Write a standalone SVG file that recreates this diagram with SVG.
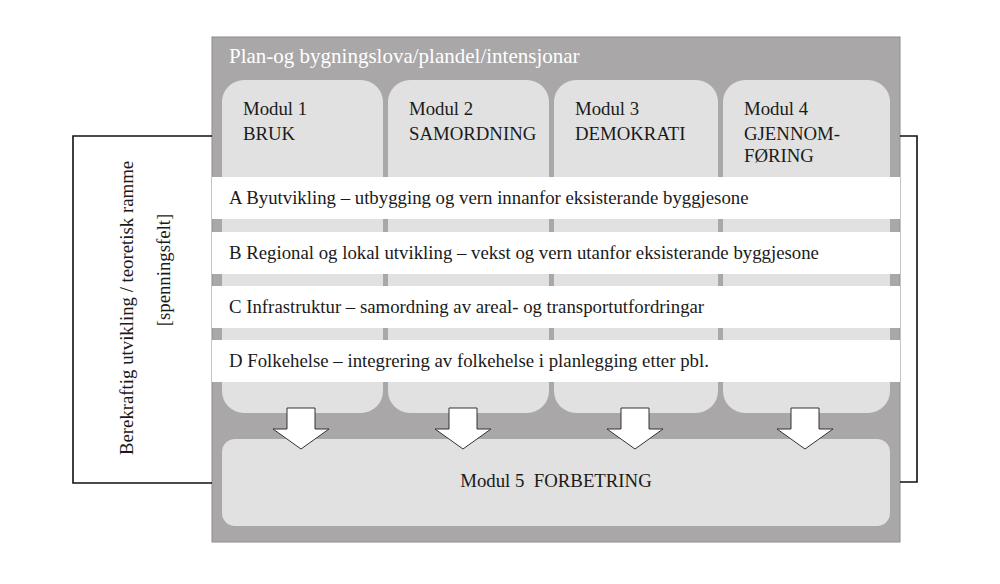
<svg xmlns="http://www.w3.org/2000/svg" width="1000" height="584" viewBox="0 0 1000 584">
<style>
text{font-family:"Liberation Serif","Times New Roman",serif;fill:#1a1a1a;}
.t{font-size:18.8px;}
.title{font-size:21px;fill:#ffffff;}
.mod{fill:#e1e1e1;}
.band{fill:#ffffff;}
.arrow{fill:#ffffff;stroke:#333333;stroke-width:1;}
.br{fill:none;stroke:#111111;stroke-width:1.6;}
</style>
<rect width="1000" height="584" fill="#ffffff"/>
<g id="frame">
<rect x="212" y="37" width="688" height="505" fill="#a9a7a8" stroke="#8e8c8d" stroke-width="1"/>
<text class="title" x="229" y="63">Plan-og bygningslova/plandel/intensjonar</text>
</g>
<g id="modul1">
<rect class="mod" x="222" y="80" width="161" height="333" rx="22"/>
<text class="t" x="243" y="115">Modul 1</text>
<text class="t" x="243" y="140">BRUK</text>
</g>
<g id="modul2">
<rect class="mod" x="388" y="80" width="161" height="333" rx="22"/>
<text class="t" x="409" y="115">Modul 2</text>
<text class="t" x="409" y="140">SAMORDNING</text>
</g>
<g id="modul3">
<rect class="mod" x="554" y="80" width="164" height="333" rx="22"/>
<text class="t" x="575" y="115">Modul 3</text>
<text class="t" x="575" y="140">DEMOKRATI</text>
</g>
<g id="modul4">
<rect class="mod" x="723" y="80" width="167" height="333" rx="22"/>
<text class="t" x="744" y="115">Modul 4</text>
<text class="t" x="744" y="140">GJENNOM-</text>
<text class="t" x="744" y="162">FØRING</text>
</g>
<g id="bandA">
<rect class="band" x="212" y="177" width="688" height="42"/>
<text class="t" x="229" y="204">A Byutvikling – utbygging og vern innanfor eksisterande byggjesone</text>
</g>
<g id="bandB">
<rect class="band" x="212" y="232" width="688" height="42"/>
<text class="t" x="229" y="259">B Regional og lokal utvikling – vekst og vern utanfor eksisterande byggjesone</text>
</g>
<g id="bandC">
<rect class="band" x="212" y="286" width="688" height="42"/>
<text class="t" x="229" y="313">C Infrastruktur – samordning av areal- og transportutfordringar</text>
</g>
<g id="bandD">
<rect class="band" x="212" y="340" width="688" height="42"/>
<text class="t" x="229" y="367">D Folkehelse – integrering av folkehelse i planlegging etter pbl.</text>
</g>
<g id="modul5">
<rect class="mod" x="222" y="439" width="668" height="87" rx="13"/>
<text class="t" x="556" y="487" text-anchor="middle" xml:space="preserve">Modul 5  FORBETRING</text>
</g>
<g id="sidetext">
<text class="t" transform="translate(133,308) rotate(-90)" text-anchor="middle">Berekraftig utvikling / teoretisk ramme</text>
<text class="t" transform="translate(170,270) rotate(-90)" text-anchor="middle">[spenningsfelt]</text>
</g>
<g id="connectors">
<path class="br" d="M212,136 H73 V483 H212"/>
<path class="br" d="M900,136 H917 V482 H900"/>
<path class="arrow" d="M287,408 H315 V429 H329 L301,449 L273,429 H287 Z"/>
<path class="arrow" d="M449,408 H477 V429 H491 L463,449 L435,429 H449 Z"/>
<path class="arrow" d="M621,408 H649 V429 H663 L635,449 L607,429 H621 Z"/>
<path class="arrow" d="M791,408 H819 V429 H833 L805,449 L777,429 H791 Z"/>
</g>
</svg>
